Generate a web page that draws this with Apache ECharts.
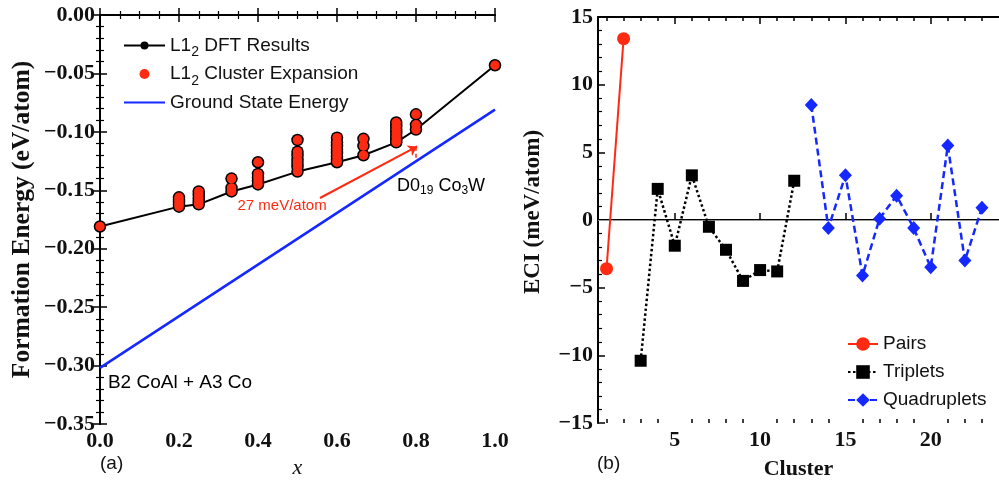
<!DOCTYPE html>
<html>
<head>
<meta charset="utf-8">
<script src="https://cdn.jsdelivr.net/npm/echarts@6/dist/echarts.min.js"></script>
<style>
html, body { margin: 0; padding: 0; background: #fff; }
#container { width: 999px; height: 485px; }
</style>
</head>
<body>
<div id="container"></div>
<script>
// (a) formation energies
const compositions = [0, 0.2, 0.25, 0.333, 0.4, 0.5, 0.6, 0.667, 0.75, 0.8, 1.0];
const dftEnergies = [
    [-0.181],
    [-0.156, -0.158, -0.160, -0.162, -0.164],
    [-0.151, -0.154, -0.157, -0.160, -0.162],
    [-0.140, -0.148, -0.151],
    [-0.126, -0.136, -0.139, -0.142, -0.145],
    [-0.107, -0.117, -0.120, -0.124, -0.127, -0.130, -0.134],
    [-0.105, -0.109, -0.112, -0.115, -0.118, -0.121, -0.124, -0.126],
    [-0.106, -0.112, -0.120],
    [-0.092, -0.095, -0.098, -0.101, -0.104, -0.107, -0.109],
    [-0.085, -0.094, -0.098],
    [-0.043]
];
const ceEnergies = dftEnergies;
const groundX = [0, 1.0];
const groundE = [-0.302, -0.081];

// (b) effective cluster interactions
const pairClusters = [1, 2];
const pairEci = [-3.6, 13.4];
const tripletClusters = [3, 4, 5, 6, 7, 8, 9, 10, 11, 12];
const tripletEci = [-10.4, 2.3, -1.9, 3.3, -0.5, -2.2, -4.5, -3.7, -3.8, 2.9];
const quadClusters = [13, 14, 15, 16, 17, 18, 19, 20, 21, 22, 23];
const quadEci = [8.5, -0.6, 3.3, -4.1, 0.1, 1.8, -0.6, -3.5, 5.5, -3.0, 0.9];
const clusterMajorTicks = [5, 10, 15, 20];
const clusterMinorTicks = [1, 2, 3, 4, 6, 7, 8, 9, 11, 12, 13, 14, 16, 17, 18, 19, 21, 22, 23];

const red = '#ff2a12';
const blue = '#1428ff';
const serif = '"Liberation Serif", "Times New Roman", serif';
const sans = '"Liberation Sans", Arial, sans-serif';

let dom = document.getElementById('container');
let myChart = echarts.init(dom);

let hullData = compositions.map((x, i) => [x, Math.min.apply(null, dftEnergies[i])]);
let dftPoints = [];
let cePoints = [];
compositions.forEach(function (x, i) {
    dftEnergies[i].forEach(e => dftPoints.push([x, e]));
    ceEnergies[i].forEach(e => cePoints.push([x, e]));
});
let groundData = groundX.map((x, i) => [x, groundE[i]]);

function minus(s) {
    return String(s).replace('-', '\u2212');
}

const tickLabel = () => ({
    fontFamily: serif,
    fontWeight: 'bold',
    fontSize: 22,
    color: '#111'
});
const frameLine = () => ({show: true, lineStyle: {color: '#000', width: 2}});
// negative length draws the ticks into the plot, like the original frame
const majorTick = (extra) => Object.assign({show: true, inside: false, length: -7, lineStyle: {color: '#000', width: 1.5}}, extra);
const minorTick = (extra) => Object.assign({show: true, length: -4, lineStyle: {color: '#000', width: 1.2}}, extra);

const subRich = {
    n: {fontFamily: sans, fontSize: 19, color: '#111', lineHeight: 28},
    s: {fontFamily: sans, fontSize: 14, color: '#111', lineHeight: 12, verticalAlign: 'bottom'}
};

option = {
    animation: false,
    backgroundColor: '#fff',
    grid: [
        {left: 100, top: 15, width: 395, height: 409},
        {left: 598, top: 17, width: 418, height: 408}
    ],
    xAxis: [
        {
            gridIndex: 0, type: 'value', position: 'bottom',
            min: 0, max: 1, interval: 0.2,
            axisLine: frameLine(), axisTick: majorTick(),
            minorTick: minorTick({splitNumber: 4}),
            splitLine: {show: false},
            axisLabel: Object.assign({margin: 6, formatter: v => v.toFixed(1)}, tickLabel()),
            name: 'x', nameLocation: 'middle', nameGap: 33,
            nameTextStyle: {fontFamily: serif, fontStyle: 'italic', fontSize: 22, color: '#111'}
        },
        {
            gridIndex: 0, type: 'value', position: 'top',
            min: 0, max: 1, interval: 0.2,
            axisLine: frameLine(), axisTick: majorTick(),
            minorTick: minorTick({splitNumber: 4}),
            splitLine: {show: false}, axisLabel: {show: false}
        },
        {
            gridIndex: 1, type: 'value', position: 'bottom',
            min: 0.5, max: 24,
            axisLine: frameLine(),
            axisTick: majorTick({customValues: clusterMajorTicks}),
            splitLine: {show: false},
            axisLabel: Object.assign({margin: 6, customValues: clusterMajorTicks}, tickLabel()),
            name: 'Cluster', nameLocation: 'middle', nameGap: 35,
            nameTextStyle: {fontFamily: serif, fontWeight: 'bold', fontSize: 22, color: '#111', padding: [0, 0, 0, 0]}
        },
        {
            gridIndex: 1, type: 'value', position: 'bottom',
            min: 0.5, max: 24,
            axisLine: {show: false},
            axisTick: majorTick({customValues: clusterMinorTicks, length: -4}),
            splitLine: {show: false}, axisLabel: {show: false}
        },
        {
            gridIndex: 1, type: 'value', position: 'top',
            min: 0.5, max: 24,
            axisLine: frameLine(),
            axisTick: majorTick({customValues: clusterMajorTicks}),
            splitLine: {show: false}, axisLabel: {show: false}
        },
        {
            gridIndex: 1, type: 'value', position: 'top',
            min: 0.5, max: 24,
            axisLine: {show: false},
            axisTick: majorTick({customValues: clusterMinorTicks, length: -4}),
            splitLine: {show: false}, axisLabel: {show: false}
        }
    ],
    yAxis: [
        {
            gridIndex: 0, type: 'value', position: 'left',
            min: -0.35, max: 0, interval: 0.05,
            axisLine: frameLine(), axisTick: majorTick(),
            minorTick: minorTick({splitNumber: 5}),
            splitLine: {show: false},
            axisLabel: Object.assign({margin: 5, formatter: v => minus(v.toFixed(2))}, tickLabel()),
            name: 'Formation Energy (eV/atom)', nameLocation: 'middle', nameGap: 65,
            nameTextStyle: {fontFamily: serif, fontWeight: 'bold', fontSize: 25.5, color: '#111'}
        },
        {
            gridIndex: 0, type: 'value', position: 'right',
            min: -0.35, max: 0, interval: 0.05,
            axisLine: frameLine(), axisTick: majorTick(),
            minorTick: minorTick({splitNumber: 5}),
            splitLine: {show: false}, axisLabel: {show: false}
        },
        {
            gridIndex: 1, type: 'value', position: 'left',
            min: -15, max: 15, interval: 5,
            axisLine: frameLine(), axisTick: majorTick(),
            minorTick: minorTick({splitNumber: 5}),
            splitLine: {show: false},
            axisLabel: Object.assign({margin: 5, formatter: v => minus(v)}, tickLabel()),
            name: 'ECI (meV/atom)', nameLocation: 'middle', nameGap: 53,
            nameTextStyle: {fontFamily: serif, fontWeight: 'bold', fontSize: 23, color: '#111', padding: [0, 0, 0, 16]}
        }
    ],
    legend: [
        {
            data: ['L12 DFT Results', 'L12 Cluster Expansion',
                {name: 'Ground State Energy', itemStyle: {opacity: 0}}],
            orient: 'vertical', left: 123, top: 36, padding: 0,
            itemWidth: 41, itemHeight: 10, itemGap: 5,
            selectedMode: false,
            formatter: function (name) {
                if (name.indexOf('L12') === 0) {
                    return '{n|L1}{s|2}{n| ' + name.slice(4) + '}';
                }
                return '{n|' + name + '}';
            },
            textStyle: {rich: subRich}
        },
        {
            data: ['Pairs', 'Triplets', 'Quadruplets'],
            orient: 'vertical', left: 847, top: 330, padding: 0,
            itemWidth: 30, itemHeight: 17, itemGap: 0,
            selectedMode: false,
            textStyle: {fontFamily: sans, fontSize: 19, color: '#111', lineHeight: 28}
        }
    ],
    graphic: [
        {type: 'text', left: 100, top: 454, style: {text: '(a)', font: '19px ' + sans, fill: '#111'}},
        {type: 'text', left: 597, top: 454, style: {text: '(b)', font: '19px ' + sans, fill: '#111'}}
    ],
    series: [
        {
            name: 'L12 DFT Results', type: 'line',
            xAxisIndex: 0, yAxisIndex: 0,
            data: hullData,
            symbol: 'circle', symbolSize: 11,
            itemStyle: {color: '#000'},
            lineStyle: {color: '#000', width: 2},
            z: 3
        },
        {
            name: 'L12 DFT Results', type: 'scatter',
            xAxisIndex: 0, yAxisIndex: 0,
            data: dftPoints,
            symbolSize: 12.5,
            itemStyle: {color: '#000', opacity: 1},
            z: 4
        },
        {
            name: 'L12 Cluster Expansion', type: 'scatter',
            xAxisIndex: 0, yAxisIndex: 0,
            data: cePoints,
            symbolSize: 9.5,
            itemStyle: {color: red, opacity: 1},
            z: 5
        },
        {
            name: 'Ground State Energy', type: 'line',
            xAxisIndex: 0, yAxisIndex: 0,
            data: groundData,
            symbol: 'none',
            itemStyle: {color: blue},
            lineStyle: {color: blue, width: 2.5},
            z: 2,
            markLine: {
                silent: true,
                symbol: ['none', 'arrow'],
                symbolSize: 9,
                label: {show: false},
                lineStyle: {color: red, width: 2, type: 'solid'},
                data: [
                    [{coord: [0.557, -0.1566]}, {coord: [0.803, -0.1125]}]
                ]
            }
        },
        {
            name: 'notes', type: 'scatter',
            xAxisIndex: 0, yAxisIndex: 0,
            symbolSize: 0, silent: true, z: 6,
            itemStyle: {opacity: 1},
            data: [
                {
                    value: [0.461, -0.1634],
                    label: {show: true, position: 'inside', formatter: '27 meV/atom',
                        fontFamily: sans, fontSize: 15, color: red}
                },
                {
                    value: [0.752, -0.1463],
                    label: {show: true, position: 'right', distance: 0,
                        formatter: '{n|D0}{s|19}{n| Co}{s|3}{n|W}',
                        rich: {
                            n: {fontFamily: sans, fontSize: 18, color: '#000', lineHeight: 22},
                            s: {fontFamily: sans, fontSize: 12, color: '#000', lineHeight: 12, verticalAlign: 'bottom'}
                        }}
                },
                {
                    value: [0.02, -0.3149],
                    label: {show: true, position: 'right', distance: 0, formatter: 'B2 CoAl + A3 Co',
                        fontFamily: sans, fontSize: 19, color: '#000'}
                }
            ],
            markLine: {
                silent: true,
                symbol: 'none',
                label: {show: false},
                lineStyle: {color: red, width: 1.5, type: [4, 3]},
                data: [
                    [{coord: [0.8, -0.1127]}, {coord: [0.8, -0.124]}]
                ]
            }
        },
        {
            name: 'Pairs', type: 'line',
            xAxisIndex: 2, yAxisIndex: 2,
            data: pairClusters.map((c, i) => [c, pairEci[i]]),
            symbol: 'circle', symbolSize: 13,
            itemStyle: {color: red},
            lineStyle: {color: red, width: 2},
            z: 3,
            markLine: {
                silent: true, symbol: 'none', label: {show: false},
                lineStyle: {color: '#999', width: 1, type: 'solid'},
                data: [{yAxis: 0}],
                z: 1
            }
        },
        {
            name: 'Triplets', type: 'line',
            xAxisIndex: 2, yAxisIndex: 2,
            data: tripletClusters.map((c, i) => [c, tripletEci[i]]),
            symbol: 'rect', symbolSize: 12,
            itemStyle: {color: '#000'},
            lineStyle: {color: '#000', width: 2.5, type: [2.5, 2.5]},
            z: 3
        },
        {
            name: 'Quadruplets', type: 'line',
            xAxisIndex: 2, yAxisIndex: 2,
            data: quadClusters.map((c, i) => [c, quadEci[i]]),
            symbol: 'diamond', symbolSize: [13, 14],
            itemStyle: {color: blue},
            lineStyle: {color: blue, width: 2.5, type: [7, 4]},
            clip: false,
            z: 3
        }
    ]
};

myChart.setOption(option);
</script>
</body>
</html>
